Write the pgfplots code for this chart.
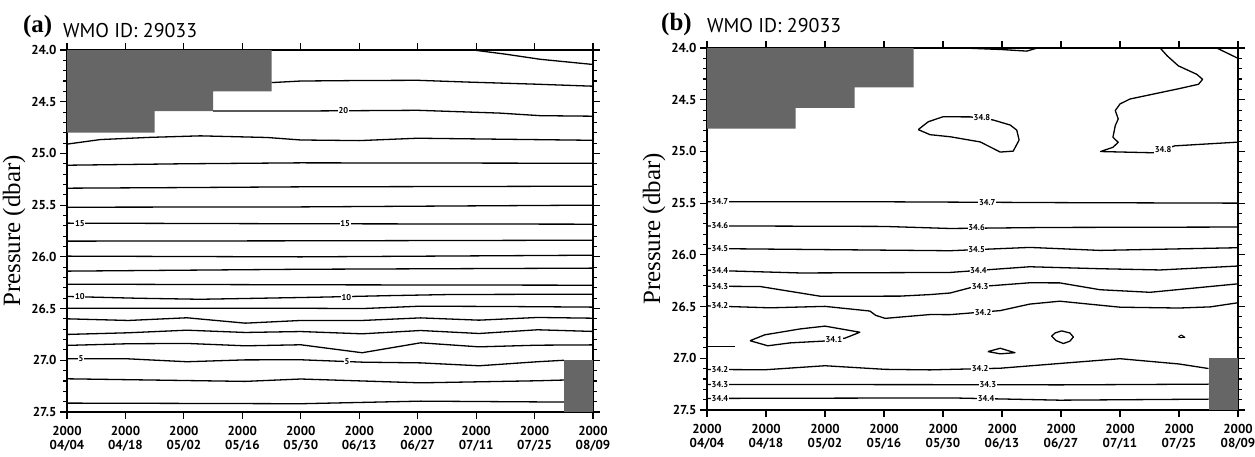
\documentclass[border=0pt]{standalone}
\usepackage{fontspec}
\setmainfont{Liberation Serif}
\newfontfamily\sfont{PT Sans}[BoldFont={PT Sans Bold}]
\usepackage{pgfplots}
\pgfplotsset{compat=1.18}
\newcommand\tickfont{\sfont\bfseries\fontsize{13}{14}\selectfont}
\newcommand\clfont{\sfont\bfseries\fontsize{8.5}{9}\selectfont}
\tikzset{clabel/.style={fill=white, inner sep=0.6bp, font=\clfont}}
\pgfplotsset{
  panel/.style={
    scale only axis, width=526bp, height=362bp,
    anchor=south west,
    xmin=0, xmax=9, ymin=24, ymax=27.5, y dir=reverse,
    enlargelimits=false,
    xtick={0,...,9},
    xticklabels={{2000\\04/04},{2000\\04/18},{2000\\05/02},{2000\\05/16},{2000\\05/30},{2000\\06/13},{2000\\06/27},{2000\\07/11},{2000\\07/25},{2000\\08/09}},
    xticklabel style={align=center, font=\tickfont, yshift=-5bp, inner sep=2bp},
    ytick={24,24.5,...,27.5},
    minor y tick num=4,
    /pgf/number format/assume math mode=true,
    yticklabel style={font=\tickfont, /pgf/number format/.cd, fixed, fixed zerofill, precision=1},
    tick pos=both, tick align=outside,
    major tick length=7bp, minor tick length=4bp,
    every tick/.style={black, line width=1.1bp},
    axis line style={line width=1.5bp},
    ylabel={Pressure (dbar)},
    ylabel style={font=\fontsize{25}{27}\selectfont, yshift=-1bp},
    cl/.style={black, line width=1.3bp, line join=round, no markers},
    blk/.style={draw=none, fill=black!60},
  },
}
\begin{document}
\begin{tikzpicture}
\useasboundingbox (0bp,0bp) rectangle (1255bp,457bp);
% ---------------- panel (a) ----------------
\begin{axis}[panel, at={(67bp,45bp)}]
\addplot[blk] coordinates {(0,24) (3.5,24) (3.5,24.40) (2.5,24.40) (2.5,24.59) (1.5,24.59) (1.5,24.80) (0,24.80)} -- cycle;
\addplot[blk] coordinates {(8.5,27.0) (9,27.0) (9,27.5) (8.5,27.5)} -- cycle;
\addplot[cl] coordinates {(6.95,24.0)(7.5,24.04)(8.1,24.09)(9,24.14)};
\addplot[cl] coordinates {(3.5,24.315)(4,24.30)(5,24.295)(6,24.293)(6.85,24.31)(8,24.33)(9,24.35)};
\addplot[cl] coordinates {(2.5,24.59)(4,24.59)(6,24.583)(7.4,24.61)(8.1,24.635)(9,24.64)};
\addplot[cl] coordinates {(0,24.91)(0.57,24.866)(1.4,24.845)(2.28,24.83)(3.43,24.846)(4,24.87)(5,24.876)(6,24.853)(7.5,24.863)(9,24.873)};
\addplot[cl] coordinates {(0,25.114)(2,25.10)(4,25.091)(6.5,25.093)(9,25.095)};
\addplot[cl] coordinates {(0,25.336)(2,25.33)(4,25.323)(6.5,25.32)(9,25.317)};
\addplot[cl] coordinates {(0,25.52)(4,25.517)(9,25.50)};
\addplot[cl] coordinates {(0,25.674)(4,25.68)(9,25.684)};
\addplot[cl] coordinates {(0,25.848)(4,25.845)(9,25.839)};
\addplot[cl] coordinates {(0,25.993)(4,26.0)(9,25.984)};
\addplot[cl] coordinates {(0,26.138)(4,26.12)(9,26.109)};
\addplot[cl] coordinates {(0,26.264)(4,26.27)(9,26.274)};
\addplot[cl] coordinates {(0,26.383)(1.2,26.40)(2.28,26.41)(3.3,26.40)(4.3,26.39)(5.5,26.375)(6.56,26.364)(8,26.362)(9,26.361)};
\addplot[cl] coordinates {(0,26.496)(2,26.497)(4,26.497)(5.05,26.50)(6.04,26.477)(7.5,26.48)(9,26.486)};
\addplot[cl] coordinates {(0,26.599)(1.05,26.615)(2.05,26.589)(3.05,26.641)(4,26.615)(5.05,26.615)(6.05,26.59)(7.05,26.612)(8.05,26.586)(9,26.593)};
\addplot[cl] coordinates {(0,26.75)(1.05,26.734)(2.05,26.709)(3.05,26.731)(4,26.722)(5.05,26.744)(6.05,26.712)(7.05,26.741)(8.05,26.705)(9,26.721)};
\addplot[cl] coordinates {(0,26.856)(1.05,26.84)(2.05,26.837)(3.05,26.86)(4,26.85)(5.05,26.927)(6.05,26.831)(7.05,26.87)(8.05,26.854)(9,26.851)};
\addplot[cl] coordinates {(0,26.986)(1.05,26.986)(2.05,27.014)(3.05,26.996)(4,26.995)(5.05,27.018)(6.05,27.025)(7.05,27.053)(8.05,27.014)(8.5,27.0)};
\addplot[cl] coordinates {(0,27.179)(3.05,27.204)(4,27.181)(6.05,27.218)(8.05,27.198)(8.5,27.191)};
\addplot[cl] coordinates {(0,27.414)(2.05,27.417)(4,27.42)(6.05,27.395)(8.5,27.404)};
\node[clabel] at (axis cs:4.73,24.59) {20};
\node[clabel] at (axis cs:0.22,25.675) {15};
\node[clabel] at (axis cs:4.76,25.68) {15};
\node[clabel] at (axis cs:0.22,26.385) {10};
\node[clabel] at (axis cs:4.78,26.39) {10};
\node[clabel] at (axis cs:0.24,26.986) {5};
\node[clabel] at (axis cs:4.79,27.01) {5};
\end{axis}
% ---------------- panel (b) ----------------
\begin{axis}[panel, at={(707bp,47bp)}, width=531bp]
\addplot[blk] coordinates {(0,24) (3.5,24) (3.5,24.38) (2.5,24.38) (2.5,24.58) (1.5,24.58) (1.5,24.78) (0,24.78)} -- cycle;
\addplot[blk] coordinates {(8.5,27.0) (9,27.0) (9,27.5) (8.5,27.5)} -- cycle;
% top sliver and corner
\addplot[cl] coordinates {(4.34,24.0)(5.0,24.015)(5.42,24.03)(5.6,24.0)};
\addplot[cl] coordinates {(8.64,24.0)(9,24.10)};
% meandering 34.8
\addplot[cl] coordinates {(7.68,24.0)(7.80,24.076)(7.99,24.173)(8.30,24.254)(8.40,24.303)(8.33,24.351)(7.96,24.398)(7.17,24.493)(7.0,24.541)(6.92,24.605)(6.97,24.686)(6.92,24.75)(6.88,24.863)(6.97,24.912)(6.88,24.96)(6.67,25.001)(7.56,25.013)(7.93,24.946)(9,24.91)};
% closed 34.8 loop
\addplot[cl] coordinates {(3.58,24.789)(3.75,24.713)(4.0,24.665)(4.46,24.666)(4.85,24.696)(5.14,24.745)(5.25,24.794)(5.29,24.89)(5.19,24.997)(4.97,25.006)(4.63,24.908)(4.12,24.858)(3.78,24.838)(3.58,24.789)};
% horizontal contours
\addplot[cl] coordinates {(0,25.486)(3,25.487)(6,25.495)(9,25.50)};
\addplot[cl] coordinates {(0,25.72)(3,25.725)(4.12,25.745)(5.8,25.735)(9,25.731)};
\addplot[cl] coordinates {(0,25.939)(4.12,25.96)(5.47,25.928)(6.66,25.957)(9,25.931)};
\addplot[cl] coordinates {(0,26.149)(1.58,26.175)(4.12,26.17)(5.47,26.115)(6.66,26.134)(7.68,26.146)(9,26.108)};
\addplot[cl] coordinates {(0,26.303)(0.9,26.306)(1.92,26.40)(3.27,26.399)(3.78,26.384)(4.12,26.369)(4.5,26.312)(5.47,26.27)(5.98,26.271)(6.66,26.337)(7.51,26.362)(9,26.28)};
\addplot[cl] coordinates {(0,26.493)(1.07,26.512)(2.0,26.498)(2.76,26.543)(2.86,26.585)(3.02,26.614)(3.78,26.577)(4.12,26.578)(4.97,26.539)(5.47,26.476)(5.98,26.448)(7.0,26.506)(8.0,26.514)(8.53,26.503)(9,26.463)};
% 34.1 loop and small features
\addplot[cl] coordinates {(0.73,26.83)(0.98,26.773)(1.58,26.716)(2.0,26.689)(2.59,26.748)(2.34,26.805)(2.0,26.833)(1.41,26.851)(1.03,26.879)(0.73,26.83)};
\addplot[cl] coordinates {(0,26.886)(0.47,26.886)};
\addplot[cl] coordinates {(4.76,26.935)(4.97,26.903)(5.22,26.946)(4.97,26.957)(4.76,26.935)};
\addplot[cl] coordinates {(5.84,26.786)(5.9,26.755)(6.01,26.735)(6.15,26.755)(6.21,26.794)(6.15,26.835)(6.04,26.857)(5.92,26.83)(5.84,26.786)};
\addplot[cl, line width=1bp] coordinates {(7.99,26.792)(8.04,26.775)(8.1,26.797)(8.02,26.80)(7.99,26.792)};
% lower contours
\addplot[cl] coordinates {(0,27.108)(0.98,27.111)(2.0,27.072)(3.02,27.107)(3.78,27.112)(4.97,27.096)(5.98,27.05)(7.0,27.004)(8.0,27.055)(8.5,27.099)};
\addplot[cl] coordinates {(0,27.253)(4.12,27.255)(5.98,27.257)(8.5,27.25)};
\addplot[cl] coordinates {(0,27.388)(4.12,27.383)(5.98,27.405)(8.5,27.395)};
% labels
\node[clabel] at (axis cs:0.22,25.486) {34.7};
\node[clabel] at (axis cs:4.75,25.49) {34.7};
\node[clabel] at (axis cs:0.22,25.72) {34.6};
\node[clabel] at (axis cs:4.57,25.74) {34.6};
\node[clabel] at (axis cs:0.22,25.939) {34.5};
\node[clabel] at (axis cs:4.57,25.945) {34.5};
\node[clabel] at (axis cs:0.22,26.15) {34.4};
\node[clabel] at (axis cs:4.6,26.15) {34.4};
\node[clabel] at (axis cs:0.22,26.303) {34.3};
\node[clabel] at (axis cs:4.63,26.305) {34.3};
\node[clabel] at (axis cs:0.22,26.493) {34.2};
\node[clabel] at (axis cs:4.68,26.56) {34.2};
\node[clabel] at (axis cs:2.15,26.82) {34.1};
\node[clabel] at (axis cs:4.66,24.67) {34.8};
\node[clabel] at (axis cs:7.73,24.98) {34.8};
\node[clabel] at (axis cs:0.22,27.108) {34.2};
\node[clabel] at (axis cs:4.63,27.10) {34.2};
\node[clabel] at (axis cs:0.22,27.253) {34.3};
\node[clabel] at (axis cs:4.76,27.255) {34.3};
\node[clabel] at (axis cs:0.22,27.388) {34.4};
\node[clabel] at (axis cs:4.73,27.385) {34.4};
\end{axis}
% titles
\node[anchor=base west, inner sep=0, font=\bfseries\fontsize{25}{27}\selectfont] at (23bp,424bp) {(a)};
\node[anchor=base west, inner sep=0, font=\sfont\fontsize{20}{22}\selectfont] at (63bp,419bp) {WMO ID: 29033};
\node[anchor=base west, inner sep=0, font=\bfseries\fontsize{25}{27}\selectfont] at (661bp,426bp) {(b)};
\node[anchor=base west, inner sep=0, font=\sfont\fontsize{20}{22}\selectfont] at (707bp,424bp) {WMO ID: 29033};
\end{tikzpicture}
\end{document}
